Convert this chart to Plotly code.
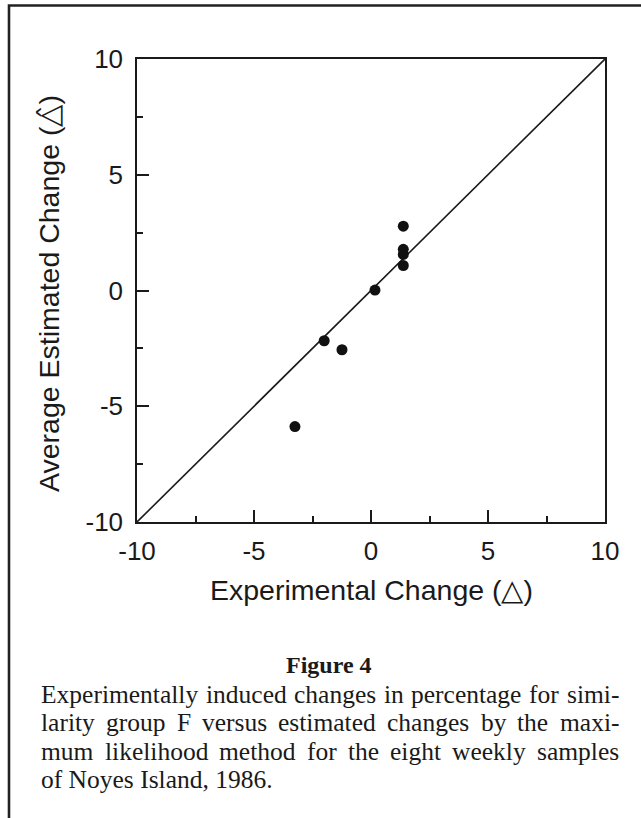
import plotly.graph_objects as go

# ---------------- data ----------------
exp_change = [-3.25, -2.0, -1.24, 0.17, 1.38, 1.38, 1.38, 1.38]
est_change = [-5.88, -2.17, -2.56, 0.02, 1.08, 1.56, 1.78, 2.78]
identity_x = [-10, 10]
identity_y = [-10, 10]
tick_vals = [-10, -5, 0, 5, 10]
tick_text = ["-10", "-5", "0", "5", "10"]
x_title = "Experimental Change (△)"
y_title = "Average Estimated Change (△\u0302)"
caption_head = "Figure 4"
caption_justified = [
    "Experimentally induced changes in percentage for simi-",
    "larity group F versus estimated changes by the maxi-",
    "mum likelihood method for the eight weekly samples",
]
caption_last = "of Noyes Island, 1986."

# ---------------- layout geometry (pixels) ----------------
W, H = 641, 818
ML, MR, MT, MB = 137, 36, 59, 296
PW = W - ML - MR
PH = H - MT - MB
BOTTOM = H - MB


def px(x):
    return (x - ML) / PW


def py(y):
    return (BOTTOM - y) / PH


INK = "#1a1a1a"
SANS = "Liberation Sans, Arial, sans-serif"
SERIF = "Liberation Serif, Times New Roman, serif"

fig = go.Figure()
fig.add_trace(go.Scatter(x=identity_x, y=identity_y, mode="lines",
                         line=dict(color=INK, width=1.6), hoverinfo="skip"))
fig.add_trace(go.Scatter(x=exp_change, y=est_change, mode="markers",
                         marker=dict(color="#111111", size=11, line=dict(width=0))))

axis_common = dict(
    range=[-10, 10], tickmode="array", tickvals=tick_vals, ticktext=tick_text,
    ticks="inside", ticklen=12, tickwidth=1.5, tickcolor=INK,
    showline=True, linewidth=1.5, linecolor=INK, mirror=True,
    showgrid=False, zeroline=False,
    tickfont=dict(family=SANS, size=26, color=INK),
    minor=dict(ticks="inside", ticklen=6, tickwidth=1.5, tickcolor=INK,
               dtick=2.5, tick0=0, showgrid=False),
)
fig.update_xaxes(**axis_common, ticklabelstandoff=5)
fig.update_yaxes(**axis_common, ticklabelstandoff=7)

annotations = [
    dict(text=x_title, x=0.5, y=py(590), xref="paper", yref="paper",
         xanchor="center", yanchor="middle", showarrow=False,
         font=dict(family=SANS, size=28.5, color=INK)),
    dict(text=y_title, x=px(49), y=py(294), xref="paper", yref="paper",
         xanchor="center", yanchor="middle", showarrow=False, textangle=-90,
         font=dict(family=SANS, size=28.5, color=INK)),
    dict(text="<b>" + caption_head + "</b>", x=px(329), y=py(673 - 0.3465 * 24),
         xref="paper", yref="paper", xanchor="center", yanchor="middle",
         showarrow=False, borderpad=0,
         font=dict(family=SERIF, size=24, color=INK)),
]

# Times-metric advance widths (per 1000 em) for justification
CW = {' ': 250, 'a': 444, 'b': 500, 'c': 444, 'd': 500, 'e': 444, 'f': 333,
      'g': 500, 'h': 500, 'i': 278, 'k': 500, 'l': 278, 'm': 778, 'n': 500,
      'o': 500, 'p': 500, 'r': 333, 's': 389, 't': 278, 'u': 500, 'v': 500,
      'w': 722, 'x': 500, 'y': 500, 'E': 611, 'F': 556, 'I': 333, 'N': 722,
      '-': 333, ',': 250, '.': 250}
for d in "0123456789":
    CW[d] = 500


def word_w(word, size):
    return sum(CW.get(c, 500) for c in word) / 1000.0 * size


CAP_SIZE = 25.5
TEXT_L, TEXT_R = 40, 618
baselines = [703.5, 731.5, 760, 788.5]

for line, base in zip(caption_justified, baselines):
    words = line.split(" ")
    widths = [word_w(w, CAP_SIZE) for w in words]
    gap = (TEXT_R - TEXT_L - sum(widths)) / (len(words) - 1)
    xpos = TEXT_L
    for w, ww in zip(words, widths):
        annotations.append(dict(
            text=w, x=px(xpos), y=py(base - 0.3465 * CAP_SIZE),
            xref="paper", yref="paper", xanchor="left", yanchor="middle",
            showarrow=False, borderpad=0,
            font=dict(family=SERIF, size=CAP_SIZE, color=INK)))
        xpos += ww + gap

annotations.append(dict(
    text=caption_last, x=px(TEXT_L), y=py(baselines[3] - 0.3465 * CAP_SIZE),
    xref="paper", yref="paper", xanchor="left", yanchor="middle",
    showarrow=False, borderpad=0,
    font=dict(family=SERIF, size=CAP_SIZE, color=INK)))

# figure frame: left and top rules of the printed figure box
frame_path = "M {a},{b} L {a},{c} L {d},{c}".format(
    a=px(9), b=py(822), c=py(5.5), d=px(645))

fig.update_layout(
    width=W, height=H,
    margin=dict(l=ML, r=MR, t=MT, b=MB, pad=0),
    paper_bgcolor="white", plot_bgcolor="white",
    showlegend=False,
    annotations=annotations,
    shapes=[dict(type="path", path=frame_path, xref="paper", yref="paper",
                 line=dict(color="#222222", width=2.6))],
)

fig.write_html("out.html",
               config={"displayModeBar": False},
               post_script="document.body.style.margin='0';"
                           "document.body.style.overflow='hidden';")
